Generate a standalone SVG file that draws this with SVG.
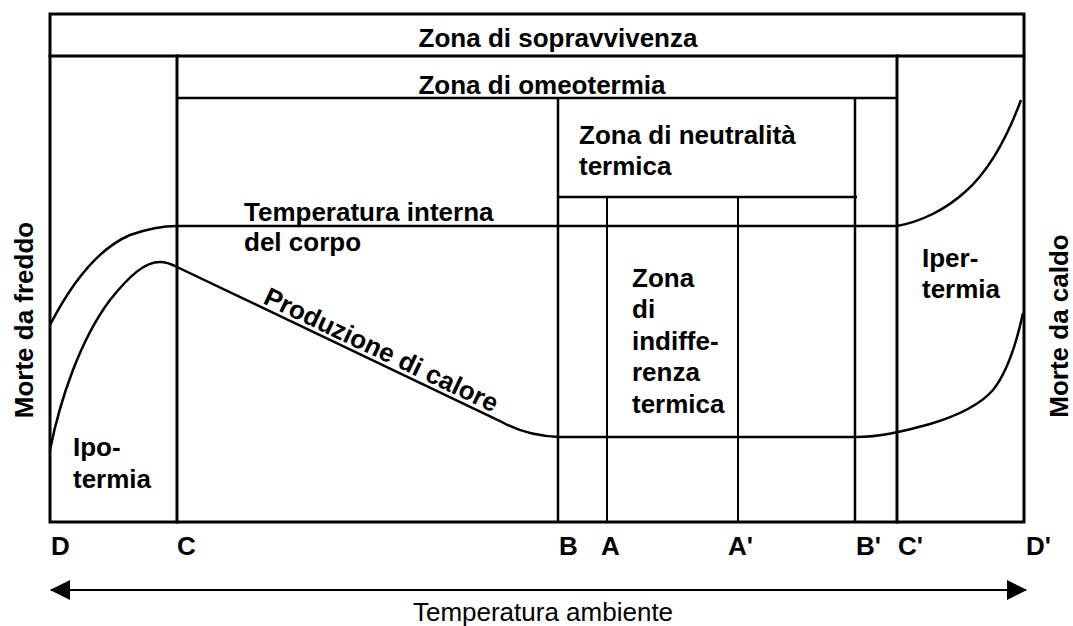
<svg xmlns="http://www.w3.org/2000/svg" width="1073" height="626" viewBox="0 0 1073 626">
<style>
.t{font-family:"Liberation Sans",Arial,sans-serif;font-weight:bold;font-size:26px;fill:#000}
.r{font-family:"Liberation Sans",Arial,sans-serif;font-size:26px;fill:#000}
.m{text-anchor:middle}
.f{fill:none;stroke:#000;stroke-width:3;stroke-linecap:square}
.n{fill:none;stroke:#000;stroke-width:2.5}
.s{fill:none;stroke:#000;stroke-width:2}
</style>
<defs>
<marker id="ah" viewBox="0 0 20 20" refX="19" refY="10" markerWidth="20" markerHeight="20" markerUnits="userSpaceOnUse" orient="auto-start-reverse">
<path d="M0,0 L20,10 L0,20 Z" fill="#000"/>
</marker>
</defs>
<rect width="1073" height="626" fill="#fff"/>
<g id="frame">
<rect class="f" x="50" y="14" width="974" height="508"/>
<line class="f" x1="50" y1="56" x2="1024" y2="56"/>
</g>
<g id="zones">
<line class="f" x1="177" y1="56" x2="177" y2="522"/>
<line class="f" x1="897" y1="56" x2="897" y2="522"/>
<line class="n" x1="177" y1="98" x2="897" y2="98"/>
<line class="n" x1="558" y1="98" x2="558" y2="522"/>
<line class="n" x1="855" y1="98" x2="855" y2="522"/>
<line class="n" x1="558" y1="197" x2="857" y2="197"/>
<line class="s" x1="607" y1="197" x2="607" y2="522"/>
<line class="s" x1="738" y1="197" x2="738" y2="522"/>
</g>
<g id="curves">
<path class="n" d="M50,325 C68,290 95,250 130,235 C150,228 165,226 177,226 L897,226 C920,222 945,210 965,192 C990,170 1008,135 1021,100"/>
<path class="n" d="M50,450 C60,400 80,340 110,300 C130,275 145,262 160,262 C168,262 173,265 177,267 L500,421 C512,428 530,436 559,437 L856,437 C880,437 900,432 930,424 C960,415 980,405 993,390 C1005,375 1015,350 1023,313"/>
</g>
<g id="connectors">
<line class="s" x1="51" y1="590" x2="1026" y2="590" marker-start="url(#ah)" marker-end="url(#ah)"/>
</g>
<g id="labels">
<text class="t m" x="558" y="47">Zona di sopravvivenza</text>
<text class="t m" x="542" y="94">Zona di omeotermia</text>
<text class="t" x="579" y="144">Zona di neutralità</text>
<text class="t" x="579" y="175">termica</text>
<text class="t" x="244" y="221">Temperatura interna</text>
<text class="t" x="244" y="251">del corpo</text>
<text class="t" transform="translate(262,303) rotate(25.4)">Produzione di calore</text>
<text class="t" x="632" y="287">Zona</text>
<text class="t" x="632" y="318">di</text>
<text class="t" x="632" y="350">indiffe-</text>
<text class="t" x="632" y="381">renza</text>
<text class="t" x="632" y="413">termica</text>
<text class="t" x="922" y="267">Iper-</text>
<text class="t" x="922" y="298">termia</text>
<text class="t" x="73" y="456">Ipo-</text>
<text class="t" x="73" y="488">termia</text>
<text class="t m" transform="translate(33,320) rotate(-90)">Morte da freddo</text>
<text class="t m" transform="translate(1068,326) rotate(-90)">Morte da caldo</text>
<text class="t" x="51" y="555">D</text>
<text class="t" x="177" y="555">C</text>
<text class="t" x="559" y="555">B</text>
<text class="t" x="601" y="555">A</text>
<text class="t" x="728" y="555">A'</text>
<text class="t" x="856" y="555">B'</text>
<text class="t" x="898" y="555">C'</text>
<text class="t" x="1026" y="555">D'</text>
<text class="r m" x="543" y="621">Temperatura ambiente</text>
</g>
</svg>
